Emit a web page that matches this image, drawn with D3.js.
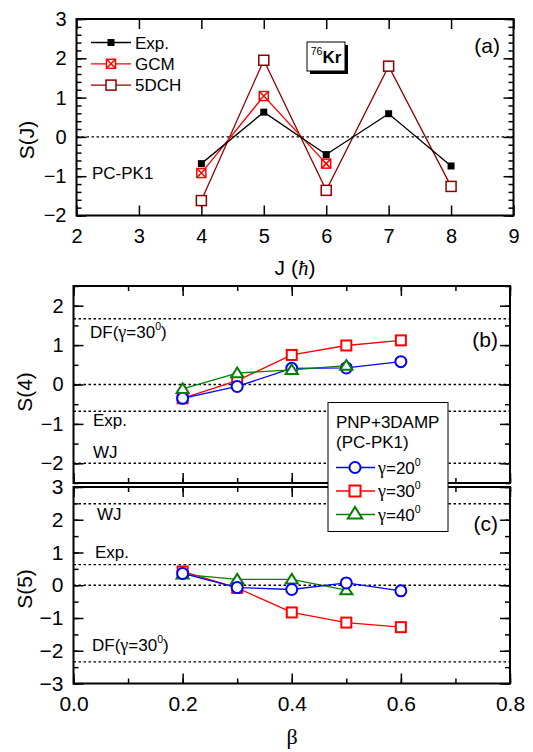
<!DOCTYPE html>
<html><head><meta charset="utf-8">
<script src="https://cdn.jsdelivr.net/npm/d3@7"></script>
<style>body{margin:0;background:#fff}svg{display:block}</style>
</head><body>
<script>
// ---------- data ----------
const J = [4, 5, 6, 7, 8];
const expS = [-0.68, 0.63, -0.45, 0.59, -0.74];
const gcmJ = [4, 5, 6];
const gcmS = [-0.92, 1.04, -0.68];
const dchS = [-1.62, 1.95, -1.36, 1.80, -1.26];

const beta = [0.2, 0.3, 0.4, 0.5, 0.6];
const beta40 = [0.2, 0.3, 0.4, 0.5];
const S4g20 = [-0.35, -0.05, 0.41, 0.42, 0.58];
const S4g30 = [-0.35, 0.10, 0.75, 0.99, 1.12];
const S4g40 = [-0.11, 0.29, 0.37, 0.48];
const S5g20 = [0.36, -0.07, -0.13, 0.07, -0.17];
const S5g30 = [0.42, -0.08, -0.83, -1.14, -1.28];
const S5g40 = [0.33, 0.18, 0.18, -0.15];

const S4refs = [1.67, 0, -0.68, -2.0];   // DF, zero, Exp, WJ
const S5refs = [2.49, 0.63, 0, -2.34];   // WJ, Exp, zero, DF

const jTicks = [2, 3, 4, 5, 6, 7, 8, 9];
const sjTicks = [-2, -1, 0, 1, 2, 3];
const betaTicks = [0.0, 0.2, 0.4, 0.6, 0.8];
const s4Ticks = [-2, -1, 0, 1, 2];
const s5Ticks = [-3, -2, -1, 0, 1, 2, 3];

// ---------- setup ----------
const W = 533, H = 752;
const svg = d3.select('body').append('svg').attr('width', W).attr('height', H);
const FONT = 'Liberation Sans, Arial, sans-serif';
const SERIF = 'Liberation Serif, Times New Roman, serif';

const xa = d3.scaleLinear().domain([2, 9]).range([76.5, 513.5]);
const ya = d3.scaleLinear().domain([-2, 3]).range([215.5, 19]);
const xb = d3.scaleLinear().domain([0, 0.8]).range([73.5, 510]);
const yb = d3.scaleLinear().domain([-2.5, 2.5]).range([483, 286]);
const yc = d3.scaleLinear().domain([-3, 3]).range([683.5, 487]);

function range(a, b, s) { const r = []; for (let v = a; v <= b + 1e-9; v += s) r.push(+v.toFixed(4)); return r; }

function axes(x, y, xMaj, xMin, yMaj, yMin, xLab, xFmt, yFmt) {
  const [X0, X1] = x.range(), [Y0, Y1] = y.range();
  const g = svg.append('g');
  const add = (axis, tr) => g.append('g').attr('transform', tr).call(axis);
  add(d3.axisBottom(x).tickValues(xMin).tickSize(-5).tickFormat(''), `translate(0,${Y0})`);
  add(d3.axisBottom(x).tickValues(xMaj).tickSize(-10).tickPadding(13).tickFormat(xLab ? xFmt : ''), `translate(0,${Y0})`);
  add(d3.axisTop(x).tickValues(xMin).tickSize(-5).tickFormat(''), `translate(0,${Y1})`);
  add(d3.axisTop(x).tickValues(xMaj).tickSize(-10).tickFormat(''), `translate(0,${Y1})`);
  add(d3.axisLeft(y).tickValues(yMin).tickSize(-5).tickFormat(''), `translate(${X0},0)`);
  add(d3.axisLeft(y).tickValues(yMaj).tickSize(-10).tickPadding(10).tickFormat(yFmt), `translate(${X0},0)`);
  add(d3.axisRight(y).tickValues(yMin).tickSize(-5).tickFormat(''), `translate(${X1},0)`);
  add(d3.axisRight(y).tickValues(yMaj).tickSize(-10).tickFormat(''), `translate(${X1},0)`);
  g.selectAll('.domain').remove();
  g.selectAll('.tick line').attr('stroke', '#000').attr('stroke-width', 1.5);
  g.selectAll('text').attr('font-family', FONT).attr('fill', '#000');
  g.selectAll('g').filter(function(){ return true; });
  return g;
}

function frame(x, y) {
  const [X0, X1] = x.range(), [Y0, Y1] = y.range();
  svg.append('rect').attr('x', X0).attr('y', Y1).attr('width', X1 - X0).attr('height', Y0 - Y1)
    .attr('fill', 'none').attr('stroke', '#000').attr('stroke-width', 2);
}

function refLine(x, y, v) {
  svg.append('line').attr('x1', x.range()[0]).attr('x2', x.range()[1]).attr('y1', y(v)).attr('y2', y(v))
    .attr('stroke', '#000').attr('stroke-width', 1.4).attr('stroke-dasharray', '2.5,2.5');
}

function series(x, y, xs, ys, color, marker, size, sw) {
  const pts = xs.map((d, i) => [x(d), y(ys[i])]);
  svg.append('path').attr('d', d3.line()(pts)).attr('fill', 'none').attr('stroke', color).attr('stroke-width', 1.3);
  pts.forEach(p => drawMarker(svg, p[0], p[1], color, marker, size, sw));
}

function drawMarker(g, cx, cy, color, marker, size, sw) {
  const h = size / 2;
  if (marker === 'fsquare') {
    g.append('rect').attr('x', cx - h).attr('y', cy - h).attr('width', size).attr('height', size).attr('fill', color);
  } else if (marker === 'square') {
    g.append('rect').attr('x', cx - h).attr('y', cy - h).attr('width', size).attr('height', size)
      .attr('fill', '#fff').attr('stroke', color).attr('stroke-width', sw);
  } else if (marker === 'xsquare') {
    g.append('rect').attr('x', cx - h).attr('y', cy - h).attr('width', size).attr('height', size)
      .attr('fill', '#fff').attr('stroke', color).attr('stroke-width', sw);
    g.append('path').attr('d', `M${cx - h},${cy - h}L${cx + h},${cy + h}M${cx + h},${cy - h}L${cx - h},${cy + h}`)
      .attr('stroke', color).attr('stroke-width', sw);
  } else if (marker === 'circle') {
    g.append('circle').attr('cx', cx).attr('cy', cy).attr('r', h).attr('fill', '#fff').attr('stroke', color).attr('stroke-width', sw);
  } else if (marker === 'triangle') {
    const r = size / 2;
    g.append('path').attr('d', `M${cx},${cy - r}L${cx + r * 1.1},${cy + r * 0.75}L${cx - r * 1.1},${cy + r * 0.75}Z`)
      .attr('fill', '#fff').attr('stroke', color).attr('stroke-width', sw).attr('stroke-linejoin', 'miter');
  }
}

// rich text: parts [{t, serif, italic, sup, bold, size}]
function rich(g, x, y, parts, size, anchor) {
  const t = g.append('text').attr('x', x).attr('y', y).attr('font-family', FONT).attr('font-size', size)
    .attr('fill', '#000').attr('text-anchor', anchor || 'start');
  let raised = 0;
  parts.forEach(p => {
    const s = t.append('tspan').text(p.t);
    if (p.serif) s.attr('font-family', SERIF);
    if (p.italic) s.attr('font-style', 'italic');
    if (p.bold) s.attr('font-weight', 'bold');
    if (p.size) s.attr('font-size', p.size);
    if (p.sup && !raised) { s.attr('dy', -size * 0.45).attr('font-size', size * 0.62); raised = 1; }
    else if (!p.sup && raised) { s.attr('dy', size * 0.45); raised = 0; }
  });
  return t;
}
const gam = (deg) => [{ t: 'γ', serif: true, size: 18 }, { t: '=' + deg }, { t: '0', sup: true }];

// ---------- panel (a) ----------
refLine(xa, ya, 0);
series(xa, ya, J, dchS, '#8b0000', 'square', 10, 1.5);
series(xa, ya, gcmJ, gcmS, '#ff0000', 'xsquare', 9, 1.5);
series(xa, ya, J, expS, '#000', 'fsquare', 7, 1);
axes(xa, ya, jTicks, [], sjTicks, range(-2, 3, 0.2), true, d3.format('d'), d3.format('d'))
  .call(g => { g.selectAll('text').attr('font-size', 20); });
frame(xa, ya);

// legend (a)
const legA = [['Exp.', '#000', 'fsquare', 7, 1], ['GCM', '#ff0000', 'xsquare', 9, 1.5], ['5DCH', '#8b0000', 'square', 10, 1.5]];
legA.forEach((d, i) => {
  const yy = 42.5 + i * 21.3;
  svg.append('line').attr('x1', 91).attr('x2', 131).attr('y1', yy).attr('y2', yy).attr('stroke', d[1]).attr('stroke-width', 1.3);
  drawMarker(svg, 111, yy, d[1], d[2], d[3], d[4]);
  svg.append('text').attr('x', 135).attr('y', yy + 6).attr('font-family', FONT).attr('font-size', 17).text(d[0]);
});
svg.append('text').attr('x', 92).attr('y', 178.5).attr('font-family', FONT).attr('font-size', 17).text('PC-PK1');
svg.append('text').attr('x', 500).attr('y', 53).attr('font-family', FONT).attr('font-size', 21).attr('text-anchor', 'end').text('(a)');
// 76Kr box
svg.append('rect').attr('x', 310).attr('y', 45).attr('width', 38).attr('height', 29).attr('fill', '#000');
svg.append('rect').attr('x', 307).attr('y', 42).attr('width', 38).attr('height', 29).attr('fill', '#fff').attr('stroke', '#000').attr('stroke-width', 1);
rich(svg, 326, 63, [{ t: '76', sup: true }, { t: 'Kr', bold: true }], 17, 'middle');

rich(svg, 295, 275, [{ t: 'J (' }, { t: 'ħ', serif: true, italic: true }, { t: ')' }], 21, 'middle');
svg.append('text').attr('transform', 'translate(34,140) rotate(-90)').attr('text-anchor', 'middle')
  .attr('font-family', FONT).attr('font-size', 21).text('S(J)');

// ---------- panel (b) ----------
S4refs.forEach(v => refLine(xb, yb, v));
series(xb, yb, beta, S4g30, '#ff0000', 'square', 10, 2);
series(xb, yb, beta, S4g20, '#0000ff', 'circle', 11, 2);
series(xb, yb, beta40, S4g40, '#008000', 'triangle', 11, 2);
axes(xb, yb, betaTicks, range(0, 0.8, 0.1), s4Ticks, range(-2.5, 2.5, 0.5), false, null, d3.format('d'))
  .call(g => g.selectAll('text').attr('font-size', 20));
frame(xb, yb);
rich(svg, 90, 338, [{ t: 'DF(' }, ...gam('30'), { t: ')' }], 17);
svg.append('text').attr('x', 93).attr('y', 426).attr('font-family', FONT).attr('font-size', 17).text('Exp.');
svg.append('text').attr('x', 93).attr('y', 458).attr('font-family', FONT).attr('font-size', 17).text('WJ');
svg.append('text').attr('x', 498).attr('y', 347).attr('font-family', FONT).attr('font-size', 21).attr('text-anchor', 'end').text('(b)');
svg.append('text').attr('transform', 'translate(32,392) rotate(-90)').attr('text-anchor', 'middle')
  .attr('font-family', FONT).attr('font-size', 21).text('S(4)');

// ---------- panel (c) ----------
S5refs.forEach(v => refLine(xb, yc, v));
series(xb, yc, beta, S5g30, '#ff0000', 'square', 10, 2);
series(xb, yc, beta40, S5g40, '#008000', 'triangle', 11, 2);
series(xb, yc, beta, S5g20, '#0000ff', 'circle', 11, 2);
axes(xb, yc, betaTicks, range(0, 0.8, 0.1), s5Ticks, range(-3, 3, 0.5), true, d3.format('.1f'), d3.format('d'))
  .call(g => g.selectAll('text').attr('font-size', 21));
frame(xb, yc);
svg.append('text').attr('x', 97).attr('y', 520).attr('font-family', FONT).attr('font-size', 17).text('WJ');
svg.append('text').attr('x', 95).attr('y', 558).attr('font-family', FONT).attr('font-size', 17).text('Exp.');
rich(svg, 92, 651, [{ t: 'DF(' }, ...gam('30'), { t: ')' }], 17);
svg.append('text').attr('x', 498).attr('y', 531).attr('font-family', FONT).attr('font-size', 21).attr('text-anchor', 'end').text('(c)');
svg.append('text').attr('transform', 'translate(32,589) rotate(-90)').attr('text-anchor', 'middle')
  .attr('font-family', FONT).attr('font-size', 21).text('S(5)');
svg.append('text').attr('x', 292).attr('y', 744).attr('text-anchor', 'middle').attr('font-family', SERIF).attr('font-size', 22).text('β');

// ---------- legend (b/c) ----------
svg.append('rect').attr('x', 328).attr('y', 402.5).attr('width', 120).attr('height', 129)
  .attr('fill', '#fff').attr('stroke', '#000').attr('stroke-width', 1);
svg.append('text').attr('x', 336).attr('y', 428).attr('font-family', FONT).attr('font-size', 17).text('PNP+3DAMP');
svg.append('text').attr('x', 336).attr('y', 448).attr('font-family', FONT).attr('font-size', 17).text('(PC-PK1)');
const legB = [['20', '#0000ff', 'circle'], ['30', '#ff0000', 'square'], ['40', '#008000', 'triangle']];
legB.forEach((d, i) => {
  const yy = 467.5 + i * 23.5;
  svg.append('line').attr('x1', 336).attr('x2', 375).attr('y1', yy).attr('y2', yy).attr('stroke', d[1]).attr('stroke-width', 1.3);
  drawMarker(svg, 355, d[2] === 'triangle' ? yy - 1 : yy, d[1], d[2], d[2] === 'triangle' ? 13 : 11, 2);
  rich(svg, 378, yy + 6, gam(d[0]), 17);
});
</script>
</body></html>
